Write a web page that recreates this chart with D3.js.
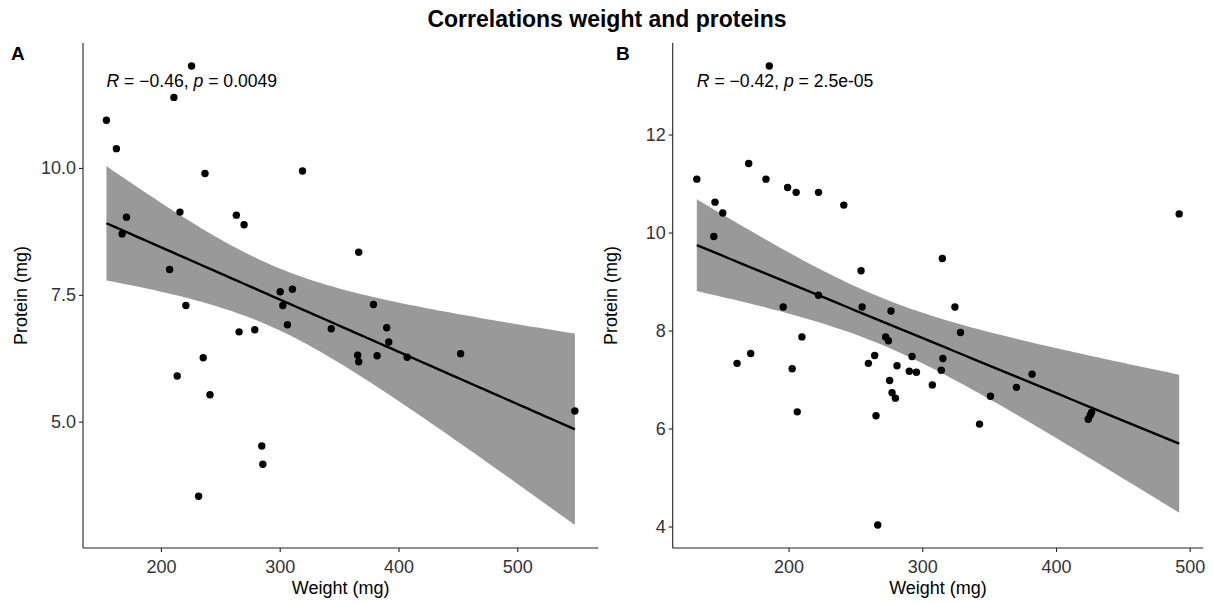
<!DOCTYPE html>
<html>
<head>
<meta charset="utf-8">
<script src="https://cdn.jsdelivr.net/npm/d3@7/dist/d3.min.js"></script>
<style>
  body { margin: 0; background: #ffffff; }
  text { font-family: "Liberation Sans", Arial, sans-serif; }
</style>
</head>
<body>
<svg id="chart" width="1214" height="603"></svg>
<script>
// ---- data -------------------------------------------------------------
const weightA = [154.1, 162.5, 225.8, 210.9, 237.1, 319.2, 171.0, 167.3, 216.0, 263.5,
                 270.0, 207.3, 221.0, 300.4, 310.7, 302.6, 306.5, 265.8, 279.0, 235.6,
                 213.7, 241.3, 284.9, 285.8, 231.7, 378.9, 343.4, 390.1, 391.8, 365.6,
                 366.5, 382.0, 407.3, 452.3, 548.5, 366.5];
const proteinA = [10.94, 10.38, 12.01, 11.39, 9.89, 9.94, 9.03, 8.70, 9.13, 9.07,
                  8.88, 8.00, 7.29, 7.56, 7.61, 7.29, 6.91, 6.77, 6.81, 6.26,
                  5.90, 5.53, 4.52, 4.16, 3.53, 7.31, 6.83, 6.85, 6.57, 6.31,
                  6.18, 6.30, 6.27, 6.34, 5.21, 8.34];

const weightB = [185.6, 131.4, 170.2, 183.1, 199.3, 205.7, 222.4, 241.3, 145.0, 150.8,
                 144.1, 254.2, 196.0, 222.4, 255.0, 276.6, 210.0, 272.6, 274.7, 161.5,
                 171.7, 202.7, 206.5, 259.7, 264.4, 275.6, 277.4, 279.9, 265.4, 281.1,
                 292.3, 290.3, 295.6, 266.7, 324.4, 328.6, 315.4, 314.2, 307.5, 351.0,
                 342.8, 370.4, 382.1, 424.1, 425.6, 426.6, 492.1, 315.0];
const proteinB = [13.40, 11.09, 11.41, 11.09, 10.92, 10.82, 10.82, 10.56, 10.62, 10.40,
                  9.92, 9.22, 8.48, 8.72, 8.48, 8.40, 7.87, 7.87, 7.79, 7.33,
                  7.53, 7.22, 6.34, 7.33, 7.49, 6.98, 6.73, 6.62, 6.26, 7.28,
                  7.47, 7.17, 7.15, 4.03, 8.48, 7.96, 7.43, 7.19, 6.89, 6.66,
                  6.09, 6.84, 7.11, 6.19, 6.27, 6.33, 10.38, 9.47];

const panelLetters = ["A", "B"];
const corrR = ["\u22120.46", "\u22120.42"];
const corrP = ["0.0049", "2.5e-05"];

const xTicksA = [200, 300, 400, 500];
const yTicksA = [5.0, 7.5, 10.0];
const xTicksB = [200, 300, 400, 500];
const yTicksB = [4, 6, 8, 10, 12];

const chartTitle = "Correlations weight and proteins";
const xTitle = "Weight (mg)";
const yTitle = "Protein (mg)";

// ---- statistics: ordinary least squares with a 95% confidence band ----
function tQuantile975(df) {
  // Cornish-Fisher expansion of Student's t around the normal quantile
  const z = 1.959964;
  const z3 = z ** 3, z5 = z ** 5, z7 = z ** 7;
  return z + (z3 + z) / (4 * df)
           + (5 * z5 + 16 * z3 + 3 * z) / (96 * df * df)
           + (3 * z7 + 19 * z5 + 17 * z3 - 15 * z) / (384 * df ** 3);
}

function linearSmooth(xs, ys, nOut = 80) {
  const n = xs.length;
  const mx = d3.mean(xs), my = d3.mean(ys);
  let sxx = 0, sxy = 0;
  for (let i = 0; i < n; i++) {
    sxx += (xs[i] - mx) ** 2;
    sxy += (xs[i] - mx) * (ys[i] - my);
  }
  const slope = sxy / sxx, icpt = my - slope * mx;
  let sse = 0;
  for (let i = 0; i < n; i++) sse += (ys[i] - (icpt + slope * xs[i])) ** 2;
  const s = Math.sqrt(sse / (n - 2));
  const t = tQuantile975(n - 2);
  const [x0, x1] = d3.extent(xs);
  const out = [];
  for (let k = 0; k < nOut; k++) {
    const x = x0 + (x1 - x0) * k / (nOut - 1);
    const fit = icpt + slope * x;
    const hw = t * s * Math.sqrt(1 / n + (x - mx) ** 2 / sxx);
    out.push({ x, fit, lo: fit - hw, hi: fit + hw });
  }
  return out;
}

// ---- drawing -----------------------------------------------------------
const svg = d3.select("#chart");
const axisColor = "#222";
const tickTextColor = "#333";

svg.append("text")
  .attr("x", 607).attr("y", 27)
  .attr("text-anchor", "middle")
  .attr("font-size", 23).attr("font-weight", "bold")
  .attr("fill", "#000")
  .text(chartTitle);

function expand(ext) {
  const pad = (ext[1] - ext[0]) * 0.05;
  return [ext[0] - pad, ext[1] + pad];
}

function drawPanel(idx, xs, ys, xTicks, yTicks, yFmt, box) {
  const smooth = linearSmooth(xs, ys);
  const x = d3.scaleLinear()
    .domain(expand(d3.extent(xs)))
    .range([box.left, box.right]);
  const yAll = ys.concat(smooth.map(d => d.lo), smooth.map(d => d.hi));
  const y = d3.scaleLinear()
    .domain(expand(d3.extent(yAll)))
    .range([box.bottom, box.top]);

  const g = svg.append("g");

  // confidence band
  g.append("path")
    .datum(smooth)
    .attr("fill", "#999999")
    .attr("d", d3.area().x(d => x(d.x)).y0(d => y(d.lo)).y1(d => y(d.hi)));

  // fitted line
  g.append("path")
    .datum(smooth)
    .attr("fill", "none")
    .attr("stroke", "#000")
    .attr("stroke-width", 2.4)
    .attr("d", d3.line().x(d => x(d.x)).y(d => y(d.fit)));

  // observations
  g.selectAll("circle.obs")
    .data(xs.map((v, i) => [v, ys[i]]))
    .join("circle")
    .attr("class", "obs")
    .attr("cx", d => x(d[0]))
    .attr("cy", d => y(d[1]))
    .attr("r", 3.7)
    .attr("fill", "#000");

  // axes
  const xAxis = g.append("g")
    .attr("transform", `translate(0,${box.bottom})`)
    .call(d3.axisBottom(x).tickValues(xTicks).tickSize(4).tickPadding(4).tickFormat(d3.format("d")));
  const yAxis = g.append("g")
    .attr("transform", `translate(${box.left},0)`)
    .call(d3.axisLeft(y).tickValues(yTicks).tickSize(4).tickPadding(3).tickFormat(d3.format(yFmt)));
  [xAxis, yAxis].forEach(a => {
    a.select(".domain").remove();
    a.selectAll(".tick line").attr("stroke", axisColor).attr("stroke-width", 1.1);
    a.selectAll(".tick text")
      .attr("font-size", 18)
      .attr("fill", tickTextColor)
      .attr("font-family", "Liberation Sans, Arial, sans-serif");
  });
  xAxis.selectAll(".tick text").attr("dy", "0.95em");

  // axis lines spanning the full panel
  g.append("line")
    .attr("x1", box.left).attr("x2", box.right)
    .attr("y1", box.bottom).attr("y2", box.bottom)
    .attr("stroke", axisColor).attr("stroke-width", 1.1);
  g.append("line")
    .attr("x1", box.left).attr("x2", box.left)
    .attr("y1", box.top).attr("y2", box.bottom)
    .attr("stroke", axisColor).attr("stroke-width", 1.1);

  // axis titles
  g.append("text")
    .attr("x", (box.left + box.right) / 2).attr("y", 594)
    .attr("text-anchor", "middle")
    .attr("font-size", 18).attr("fill", "#000")
    .text(xTitle);
  g.append("text")
    .attr("transform", `translate(${box.left - 56},${(box.top + box.bottom) / 2}) rotate(-90)`)
    .attr("text-anchor", "middle")
    .attr("font-size", 18).attr("fill", "#000")
    .text(yTitle);

  // panel tag
  g.append("text")
    .attr("x", box.tagX).attr("y", 60)
    .attr("font-size", 19).attr("font-weight", "bold").attr("fill", "#000")
    .text(panelLetters[idx]);

  // correlation annotation
  const lab = g.append("text")
    .attr("x", x(d3.min(xs))).attr("y", 87)
    .attr("font-size", 17.6).attr("fill", "#000");
  lab.append("tspan").attr("font-style", "italic").text("R");
  lab.append("tspan").text(` = ${corrR[idx]}, `);
  lab.append("tspan").attr("font-style", "italic").text("p");
  lab.append("tspan").text(` = ${corrP[idx]}`);
}

drawPanel(0, weightA, proteinA, xTicksA, yTicksA, ".1f",
  { left: 83, right: 598.3, top: 43, bottom: 548, tagX: 11 });
drawPanel(1, weightB, proteinB, xTicksB, yTicksB, "d",
  { left: 672.7, right: 1203.3, top: 43, bottom: 548, tagX: 616 });
</script>
</body>
</html>
